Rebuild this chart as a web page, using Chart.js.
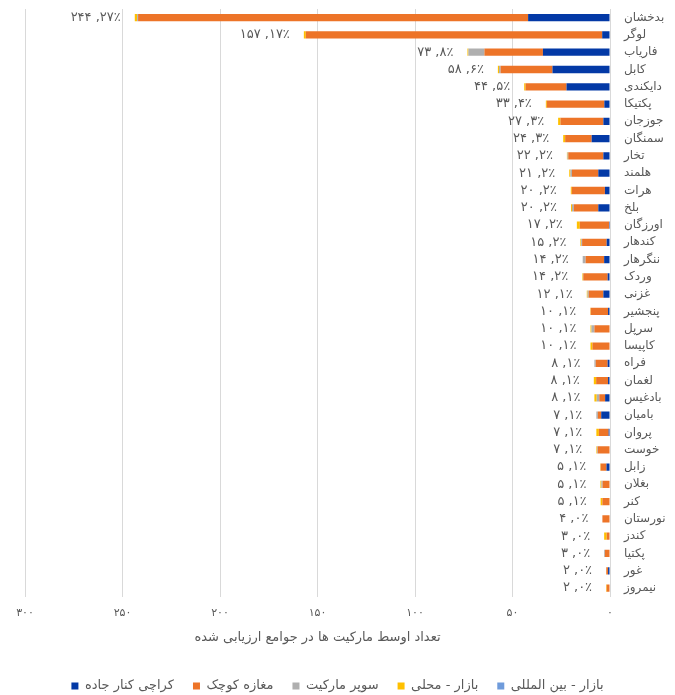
<!DOCTYPE html>
<html lang="fa">
<head>
<meta charset="utf-8">
<title>تعداد اوسط مارکیت ها</title>
<script src="https://cdn.jsdelivr.net/npm/chart.js@4/dist/chart.umd.min.js"></script>
<style>
    html, body { margin: 0; padding: 0; background: #ffffff; }
    #wrap { width: 675px; height: 695px; position: relative; }
</style>
</head>
<body>
<div id="wrap"><canvas id="chart"></canvas></div>
<script>
// ولایات
const provinces = [
    `بدخشان`, `لوگر`, `فاریاب`, `کابل`, `دایکندی`, `پکتیکا`, `جوزجان`, `سمنگان`, `تخار`, `هلمند`,
    `هرات`, `بلخ`, `اورزگان`, `کندهار`, `ننگرهار`, `وردک`, `غزنی`, `پنجشیر`, `سرپل`, `کاپیسا`,
    `فراه`, `لغمان`, `بادغیس`, `بامیان`, `پروان`, `خوست`, `زابل`, `بغلان`, `کنر`, `نورستان`,
    `کندز`, `پکتیا`, `غور`, `نیمروز`
];

// values per market type, same order as provinces
const roadsideCarts = [42, 4, 34.4, 29.5, 22.3, 2.9, 3.4, 9.4, 3.4, 6, 2.6, 6, 0.5, 1.7, 3, 1.2, 3.4, 1, 0, 0, 1.2, 1, 2.5, 4.5, 0.7, 0, 1.8, 0, 0, 0, 0, 0, 1, 0];
const smallShops    = [200, 152, 30, 26.6, 21, 29.5, 22, 13.6, 18, 13.5, 17, 12.5, 15, 12.6, 9.5, 12.5, 7.5, 8.9, 8, 9, 6.1, 6.1, 3, 1.7, 5, 6.3, 3, 3.8, 3.9, 3.9, 1.7, 2.6, 0.9, 1.7];
const supermarkets  = [0.5, 0, 8.2, 0.8, 0, 0, 0, 0, 0.4, 0.8, 0, 1, 0, 0.5, 1.5, 0.2, 0.6, 0, 1.5, 0, 0.7, 0, 1.3, 0.8, 0, 0.4, 0, 0.6, 0, 0, 0, 0.4, 0, 0];
const localMarkets  = [1.2, 1, 0.5, 0.6, 0.7, 0.5, 1.2, 1, 0.3, 0.6, 0.5, 0.5, 1.5, 0.4, 0, 0.3, 0.4, 0.2, 0.5, 1, 0, 1.2, 1.2, 0, 1.3, 0.3, 0.2, 0.5, 0.9, 0, 1.3, 0, 0.1, 0.3];
const intlMarkets   = [0, 0, 0, 0, 0, 0, 0, 0, 0, 0, 0, 0, 0, 0, 0, 0, 0, 0, 0, 0, 0, 0, 0, 0, 0, 0, 0, 0, 0, 0, 0, 0, 0, 0];

// end labels: total and share
const totals   = [244, 157, 73, 58, 44, 33, 27, 24, 22, 21, 20, 20, 17, 15, 14, 14, 12, 10, 10, 10, 8, 8, 8, 7, 7, 7, 5, 5, 5, 4, 3, 3, 2, 2];
const percents = [27, 17, 8, 6, 5, 4, 3, 3, 2, 2, 2, 2, 2, 2, 2, 2, 1, 1, 1, 1, 1, 1, 1, 1, 1, 1, 1, 1, 1, 0, 0, 0, 0, 0];

const xTicks = [0, 50, 100, 150, 200, 250, 300];

const FONT = `"DejaVu Sans", sans-serif`;
const GREY = `#595959`;

function toFa(n) {
    return String(n).replace(/\d/g, d => `۰۱۲۳۴۵۶۷۸۹`[d]);
}

const endLabels = {
    id: `endLabels`,
    afterDatasetsDraw(chart) {
        const ctx = chart.ctx;
        const xScale = chart.scales.x;
        const meta = chart.getDatasetMeta(0);
        ctx.save();
        ctx.font = `13px ${FONT}`;
        ctx.fillStyle = GREY;
        ctx.textAlign = `right`;
        ctx.textBaseline = `middle`;
        ctx.direction = `ltr`;
        provinces.forEach((p, i) => {
            const sum = chart.data.datasets.reduce((s, ds) => s + ds.data[i], 0);
            const x = xScale.getPixelForValue(sum) - 14;
            const y = meta.data[i].y;
            ctx.fillText(`${toFa(totals[i])} ,${toFa(percents[i])}٪`, x, y);
        });
        ctx.restore();
    }
};

const ctx = document.querySelector(`#chart`).getContext(`2d`);
const chart = new Chart(ctx, {
    type: `bar`,
    data: {
        labels: provinces,
        datasets: [
            { label: `کراچی کنار جاده`, data: roadsideCarts, backgroundColor: `#0339A6` },
            { label: `مغازه کوچک`, data: smallShops, backgroundColor: `#ED7428` },
            { label: `سوپر مارکیت`, data: supermarkets, backgroundColor: `#AFAFAF` },
            { label: `بازار - محلی`, data: localMarkets, backgroundColor: `#FFC000` },
            { label: `بازار - بین المللی`, data: intlMarkets, backgroundColor: `#6F9BDB` }
        ]
    },
    options: {
        indexAxis: `y`,
        responsive: true,
        maintainAspectRatio: false,
        animation: false,
        layout: { padding: { top: 9, right: 0, bottom: -7.5, left: 0 } },
        datasets: {
            bar: { barPercentage: 0.42, categoryPercentage: 1, borderWidth: 0 }
        },
        scales: {
            x: {
                stacked: true,
                reverse: true,
                min: 0,
                max: 300,
                afterBuildTicks: scale => {
                    scale.ticks = xTicks.map(v => ({ value: v }));
                },
                afterFit: scale => {
                    // room left of the 300 gridline
                    scale.paddingLeft = 25;
                },
                ticks: {
                    color: GREY,
                    font: { family: FONT, size: 11 },
                    padding: 10,
                    maxRotation: 0,
                    callback: value => toFa(value)
                },
                grid: { color: `#D9D9D9`, drawTicks: false },
                border: { display: false },
                title: {
                    display: true,
                    text: `تعداد اوسط مارکیت ها در جوامع ارزیابی شده`,
                    color: GREY,
                    font: { family: FONT, size: 13 },
                    padding: { top: 0, bottom: 15 }
                }
            },
            y: {
                stacked: true,
                position: `right`,
                afterFit: scale => {
                    scale.width = 65;
                    scale.paddingTop = 0;
                    scale.paddingBottom = 0;
                },
                ticks: {
                    color: GREY,
                    font: { family: FONT, size: 12 },
                    padding: 14,
                    crossAlign: `near`,
                    autoSkip: false
                },
                grid: { display: false, drawTicks: false },
                border: { color: `#D9D9D9` }
            }
        },
        plugins: {
            legend: {
                position: `bottom`,
                labels: {
                    color: GREY,
                    font: { family: FONT, size: 13 },
                    boxWidth: 7,
                    boxHeight: 7,
                    padding: 19
                }
            },
            tooltip: { enabled: false }
        }
    },
    plugins: [endLabels]
});
</script>
</body>
</html>
